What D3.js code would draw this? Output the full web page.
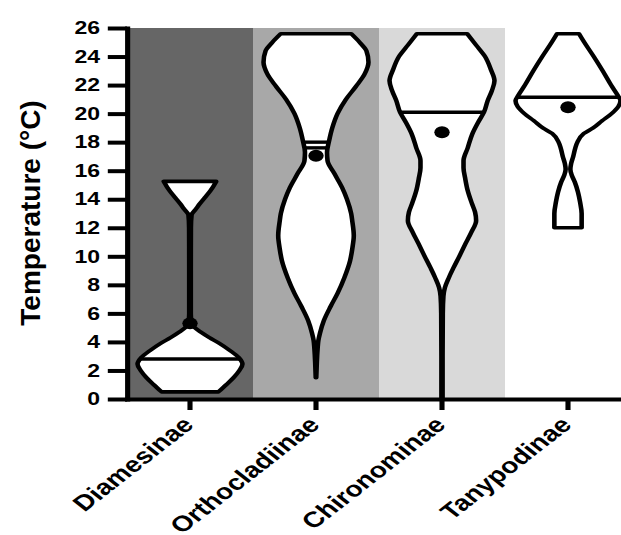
<!DOCTYPE html>
<html><head><meta charset="utf-8">
<script src="https://cdn.jsdelivr.net/npm/d3@7"></script>
<style>body{margin:0;background:#fff} svg{display:block}</style>
</head><body>
<svg id="chart" width="621" height="535"></svg>
<script>
const categories = ["Diamesinae", "Orthocladiinae", "Chironominae", "Tanypodinae"];
const bandColors = ["#666666", "#a8a8a8", "#d9d9d9", "none"];
const yTicks = [0, 2, 4, 6, 8, 10, 12, 14, 16, 18, 20, 22, 24, 26];
const yTitle = "Temperature (°C)";

// violin profiles: [temperature °C, relative density (1 = widest)]
const profileDiamesinae = [
  [0.5, .54], [1.0, .69], [1.5, .83], [2.0, .94], [2.45, 1.0], [2.9, .93], [3.4, .76],
  [3.9, .56], [4.3, .37], [4.7, .20], [5.0, .09], [5.3, .03], [6.0, .015], [9.0, .015],
  [12.0, .017], [12.9, .03], [13.3, .11], [13.7, .19], [14.1, .28], [14.6, .39], [15.25, .50]
];
const profileOrthocladiinae = [
  [1.5, .005], [2.5, .015], [3.5, .03], [4.1, .045], [4.6, .075], [5.5, .15], [6.5, .28],
  [7.4, .41], [8.5, .54], [9.7, .65], [10.5, .69], [11.45, .72], [12.5, .69], [13.0, .67],
  [14.0, .59], [14.8, .50], [15.8, .35], [16.7, .22], [17.3, .21], [18.1, .25], [19.0, .31],
  [20.0, .41], [21.0, .57], [21.9, .76], [22.8, .93], [23.6, 1.0], [24.4, .96], [25.0, .83], [25.6, .67]
];
const profileChironominae = [
  [0, .011], [3, .011], [6, .015], [7.2, .027], [7.8, .055], [8.5, .13], [9.2, .22],
  [10.0, .33], [10.9, .45], [11.7, .56], [12.5, .65], [13.1, .63], [13.7, .57], [14.6, .49],
  [15.5, .44], [16.2, .41], [16.7, .41], [17.6, .49], [18.6, .58], [19.4, .69], [20.1, .80],
  [20.9, .87], [21.6, .95], [22.3, 1.0], [23.1, .93], [24.0, .82], [24.8, .65], [25.6, .48]
];
const profileTanypodinae = [
  [12.0, .26], [13.0, .26], [13.8, .23], [14.5, .19], [15.2, .13], [15.7, .07], [16.1, .045],
  [16.5, .06], [17.0, .10], [17.6, .14], [18.0, .18], [18.6, .30], [19.0, .48], [19.5, .65],
  [20.0, .83], [20.5, .96], [20.9, 1.0], [21.2, .96], [22.0, .82], [23.0, .66], [24.0, .49],
  [25.0, .31], [25.6, .21]
];
const profiles = [profileDiamesinae, profileOrthocladiinae, profileChironominae, profileTanypodinae];
const medianLines = [[2.8], [18.0, 17.6], [20.1], [21.15]];
const means = [5.3, 17.05, 18.7, 20.45];

// ---- drawing ----
const sx = 1.28; // horizontal stretch of the original picture
const svg = d3.select("#chart");
const g = svg.append("g").attr("transform", `scale(${sx},1)`);
const x = d3.scaleBand().domain(categories).range([127 / sx, 631 / sx]).padding(0);
const y = d3.scaleLinear().domain([0, 26]).range([399, 28]);
const w = d3.scaleLinear().domain([0, 1]).range([0, 41]);
const font = "'Liberation Sans', Arial, Helvetica, sans-serif";

// background bands
g.selectAll("rect.band").data(categories).join("rect")
  .attr("class", "band")
  .attr("x", d => x(d)).attr("width", x.bandwidth())
  .attr("y", y(26)).attr("height", y(0) - y(26))
  .attr("fill", (d, i) => bandColors[i]);

function halfAt(prof, v) {
  for (let i = 0; i < prof.length - 1; i++) {
    const a = prof[i], b = prof[i + 1];
    if (v >= a[0] && v <= b[0]) return a[1] + (b[1] - a[1]) * (v - a[0]) / (b[0] - a[0]);
  }
  return 0;
}

categories.forEach((c, i) => {
  const xc = x(c) + x.bandwidth() / 2;
  const prof = profiles[i].slice().sort((a, b) => b[0] - a[0]);
  const area = d3.area()
    .y(d => y(d[0]))
    .x0(d => xc - w(d[1]))
    .x1(d => xc + w(d[1]))
    .curve(d3.curveMonotoneY);
  g.append("path").attr("d", area(prof))
    .attr("fill", "#fff").attr("stroke", "#000")
    .attr("stroke-width", 3.6).attr("stroke-linejoin", "round");
  medianLines[i].forEach(m => {
    const hw = w(halfAt(profiles[i], m));
    g.append("line")
      .attr("x1", xc - hw).attr("x2", xc + hw)
      .attr("y1", y(m)).attr("y2", y(m))
      .attr("stroke", "#000").attr("stroke-width", 3.4);
  });
  g.append("circle").attr("cx", xc).attr("cy", y(means[i])).attr("r", 6).attr("fill", "#000");
});

// y axis
const yAxis = g.append("g").attr("transform", `translate(${127 / sx},0)`)
  .call(d3.axisLeft(y).tickValues(yTicks).tickSize(15).tickSizeOuter(0).tickPadding(6));
yAxis.select(".domain").attr("stroke-width", 4).attr("stroke-linecap", "square");
yAxis.selectAll(".tick line").attr("stroke-width", 4);
yAxis.selectAll(".tick text")
  .attr("font-family", font).attr("font-weight", "bold").attr("font-size", 18).attr("fill", "#000");

// x axis
const xAxis = g.append("g").attr("transform", `translate(0,${y(0)})`)
  .call(d3.axisBottom(x).tickSize(11).tickSizeOuter(0));
xAxis.select(".domain").attr("stroke-width", 4).attr("stroke-linecap", "square");
xAxis.selectAll(".tick line").attr("stroke-width", 4);
xAxis.selectAll(".tick text")
  .attr("font-family", font).attr("font-weight", "bold").attr("font-size", 22).attr("fill", "#000")
  .attr("text-anchor", "end").attr("x", 0).attr("y", 0).attr("dy", 0)
  .attr("transform", "translate(4,27) rotate(-45)");

// y title (not stretched)
svg.append("text")
  .attr("transform", "translate(40,213) rotate(-90)")
  .attr("text-anchor", "middle")
  .attr("font-family", font).attr("font-weight", "bold").attr("font-size", 28)
  .text(yTitle);
</script>
</body></html>
